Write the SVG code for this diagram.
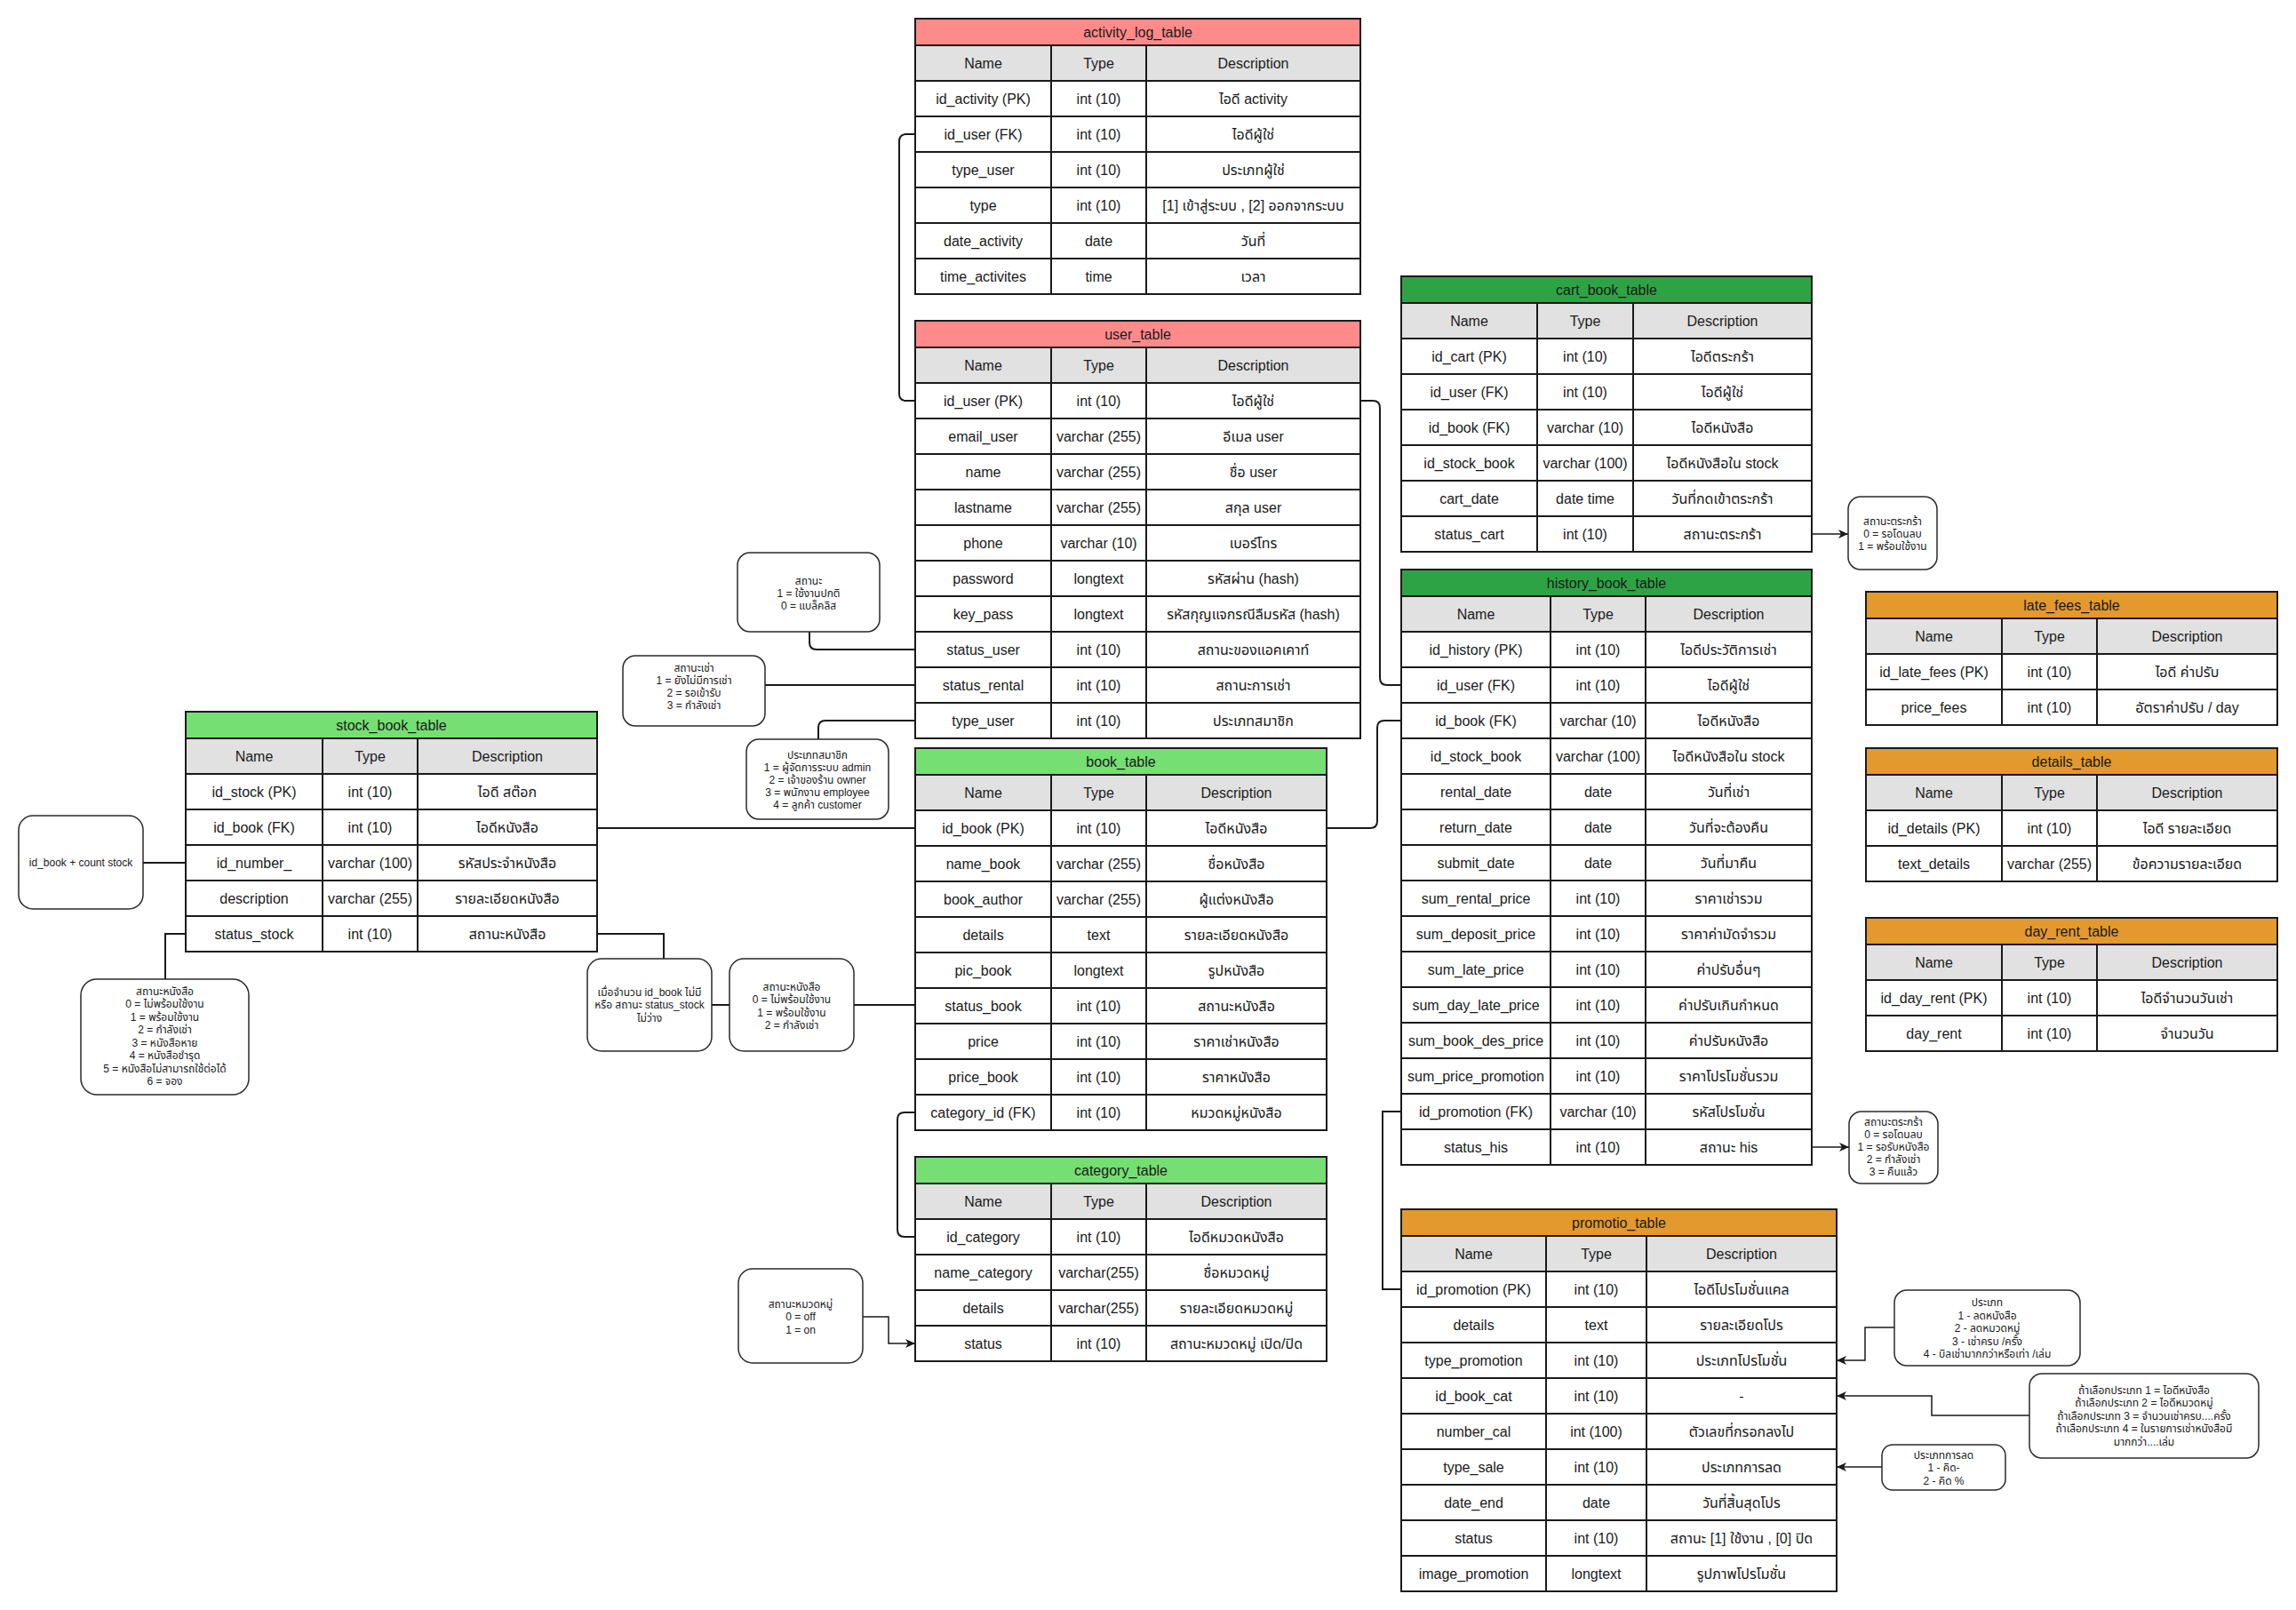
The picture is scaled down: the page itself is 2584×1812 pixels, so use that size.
<svg xmlns="http://www.w3.org/2000/svg" width="2584" height="1812" viewBox="0 0 2584 1812">
<defs>
<marker id="arrow" markerUnits="userSpaceOnUse" markerWidth="12" markerHeight="10" refX="11" refY="5" orient="auto">
<path d="M0,0 L11,5 L0,10 L3,5 z" fill="#1a1a1a"/>
</marker>
</defs>
<style>
text{font-family:'Liberation Sans','Noto Sans Thai','Noto Sans','DejaVu Sans',sans-serif;fill:#1a1a1a;text-anchor:middle}
.tb text{font-size:16px}
.pink{fill:#ff8a8a}
.lgreen{fill:#75df74}
.dgreen{fill:#2ea346}
.orange{fill:#e3992d}
.ttl,.hd,.bd{stroke:#1a1a1a;stroke-width:2}
.hd{fill:#e1e1e1}
.bd{fill:#fff}
.grid{fill:none;stroke:#1a1a1a;stroke-width:2}
.note rect{fill:#fff;stroke:#2a2a2a;stroke-width:1.5}
.note text{font-size:12px}
.conn path{fill:none;stroke:#1a1a1a;stroke-width:2}
.conn path.arr{stroke-width:1.5;marker-end:url(#arrow)}
</style>
<rect width="2584" height="1812" fill="#fff"/>

<!-- relations and note links -->
<g id="connectors" class="conn">
<path d="M1030 151 H1020 Q1012 151 1012 159 V443 Q1012 451 1020 451 H1030"/>
<path d="M1531 451 H1545 Q1553 451 1553 459 V763 Q1553 771 1561 771 H1577"/>
<path d="M1493 932 H1542 Q1550 932 1550 924 V819 Q1550 811 1558 811 H1577"/>
<path d="M1030 1252 H1018 Q1010 1252 1010 1260 V1384 Q1010 1392 1018 1392 H1030"/>
<path d="M1577 1251 H1556 V1451 H1577"/>
<path d="M672 932 H1030"/>
<path d="M161 971 H209"/>
<path d="M209 1051 H186 V1102"/>
<path d="M672 1051 H747 V1079"/>
<path d="M801 1131 H821"/>
<path d="M961 1131 H1030"/>
<path d="M911 711 V723 Q911 731 919 731 H1030"/>
<path d="M861 771 H1030"/>
<path d="M921 832 V819 Q921 811 929 811 H1030"/>
<path class="arr" d="M971 1482 H1000 V1512 H1030"/>
<path class="arr" d="M2039 601 H2080"/>
<path class="arr" d="M2039 1291 H2081"/>
<path class="arr" d="M2132 1494 H2099 V1531 H2067"/>
<path class="arr" d="M2284 1593 H2174 V1571 H2067"/>
<path class="arr" d="M2118 1651 H2067"/>
</g>

<!-- activity_log_table -->
<g id="activity_log_table" class="tb" transform="translate(1030,21)">
<rect class="ttl pink" x="0" y="0" width="501" height="30"/>
<rect class="hd" x="0" y="30" width="501" height="40"/>
<rect class="bd" x="0" y="70" width="501" height="240"/>
<path class="grid" d="M153 30V310M260 30V310M0 110H501M0 150H501M0 190H501M0 230H501M0 270H501"/>
<text x="250.5" y="20.5">activity_log_table</text>
<text x="76.5" y="55.5">Name</text><text x="206.5" y="55.5">Type</text><text x="380.5" y="55.5">Description</text>
<text x="76.5" y="95.5">id_activity (PK)</text><text x="206.5" y="95.5">int (10)</text><text x="380.5" y="95.5">ไอดี activity</text>
<text x="76.5" y="135.5">id_user (FK)</text><text x="206.5" y="135.5">int (10)</text><text x="380.5" y="135.5">ไอดีผู้ใช่</text>
<text x="76.5" y="175.5">type_user</text><text x="206.5" y="175.5">int (10)</text><text x="380.5" y="175.5">ประเภทผู้ใช่</text>
<text x="76.5" y="215.5">type</text><text x="206.5" y="215.5">int (10)</text><text x="380.5" y="215.5">[1] เข้าสู่ระบบ , [2] ออกจากระบบ</text>
<text x="76.5" y="255.5">date_activity</text><text x="206.5" y="255.5">date</text><text x="380.5" y="255.5">วันที่</text>
<text x="76.5" y="295.5">time_activites</text><text x="206.5" y="295.5">time</text><text x="380.5" y="295.5">เวลา</text>
</g>

<!-- user_table -->
<g id="user_table" class="tb" transform="translate(1030,361)">
<rect class="ttl pink" x="0" y="0" width="501" height="30"/>
<rect class="hd" x="0" y="30" width="501" height="40"/>
<rect class="bd" x="0" y="70" width="501" height="400"/>
<path class="grid" d="M153 30V470M260 30V470M0 110H501M0 150H501M0 190H501M0 230H501M0 270H501M0 310H501M0 350H501M0 390H501M0 430H501"/>
<text x="250.5" y="20.5">user_table</text>
<text x="76.5" y="55.5">Name</text><text x="206.5" y="55.5">Type</text><text x="380.5" y="55.5">Description</text>
<text x="76.5" y="95.5">id_user (PK)</text><text x="206.5" y="95.5">int (10)</text><text x="380.5" y="95.5">ไอดีผู้ใช่</text>
<text x="76.5" y="135.5">email_user</text><text x="206.5" y="135.5">varchar (255)</text><text x="380.5" y="135.5">อีเมล user</text>
<text x="76.5" y="175.5">name</text><text x="206.5" y="175.5">varchar (255)</text><text x="380.5" y="175.5">ชื่อ user</text>
<text x="76.5" y="215.5">lastname</text><text x="206.5" y="215.5">varchar (255)</text><text x="380.5" y="215.5">สกุล user</text>
<text x="76.5" y="255.5">phone</text><text x="206.5" y="255.5">varchar (10)</text><text x="380.5" y="255.5">เบอร์โทร</text>
<text x="76.5" y="295.5">password</text><text x="206.5" y="295.5">longtext</text><text x="380.5" y="295.5">รหัสผ่าน (hash)</text>
<text x="76.5" y="335.5">key_pass</text><text x="206.5" y="335.5">longtext</text><text x="380.5" y="335.5">รหัสกุญแจกรณีลืมรหัส (hash)</text>
<text x="76.5" y="375.5">status_user</text><text x="206.5" y="375.5">int (10)</text><text x="380.5" y="375.5">สถานะของแอคเคาท์</text>
<text x="76.5" y="415.5">status_rental</text><text x="206.5" y="415.5">int (10)</text><text x="380.5" y="415.5">สถานะการเช่า</text>
<text x="76.5" y="455.5">type_user</text><text x="206.5" y="455.5">int (10)</text><text x="380.5" y="455.5">ประเภทสมาชิก</text>
</g>

<!-- book_table -->
<g id="book_table" class="tb" transform="translate(1030,842)">
<rect class="ttl lgreen" x="0" y="0" width="463" height="30"/>
<rect class="hd" x="0" y="30" width="463" height="40"/>
<rect class="bd" x="0" y="70" width="463" height="360"/>
<path class="grid" d="M153 30V430M260 30V430M0 110H463M0 150H463M0 190H463M0 230H463M0 270H463M0 310H463M0 350H463M0 390H463"/>
<text x="231.5" y="20.5">book_table</text>
<text x="76.5" y="55.5">Name</text><text x="206.5" y="55.5">Type</text><text x="361.5" y="55.5">Description</text>
<text x="76.5" y="95.5">id_book (PK)</text><text x="206.5" y="95.5">int (10)</text><text x="361.5" y="95.5">ไอดีหนังสือ</text>
<text x="76.5" y="135.5">name_book</text><text x="206.5" y="135.5">varchar (255)</text><text x="361.5" y="135.5">ชื่อหนังสือ</text>
<text x="76.5" y="175.5">book_author</text><text x="206.5" y="175.5">varchar (255)</text><text x="361.5" y="175.5">ผู้แต่งหนังสือ</text>
<text x="76.5" y="215.5">details</text><text x="206.5" y="215.5">text</text><text x="361.5" y="215.5">รายละเอียดหนังสือ</text>
<text x="76.5" y="255.5">pic_book</text><text x="206.5" y="255.5">longtext</text><text x="361.5" y="255.5">รูปหนังสือ</text>
<text x="76.5" y="295.5">status_book</text><text x="206.5" y="295.5">int (10)</text><text x="361.5" y="295.5">สถานะหนังสือ</text>
<text x="76.5" y="335.5">price</text><text x="206.5" y="335.5">int (10)</text><text x="361.5" y="335.5">ราคาเช่าหนังสือ</text>
<text x="76.5" y="375.5">price_book</text><text x="206.5" y="375.5">int (10)</text><text x="361.5" y="375.5">ราคาหนังสือ</text>
<text x="76.5" y="415.5">category_id (FK)</text><text x="206.5" y="415.5">int (10)</text><text x="361.5" y="415.5">หมวดหมู่หนังสือ</text>
</g>

<!-- category_table -->
<g id="category_table" class="tb" transform="translate(1030,1302)">
<rect class="ttl lgreen" x="0" y="0" width="463" height="30"/>
<rect class="hd" x="0" y="30" width="463" height="40"/>
<rect class="bd" x="0" y="70" width="463" height="160"/>
<path class="grid" d="M153 30V230M260 30V230M0 110H463M0 150H463M0 190H463"/>
<text x="231.5" y="20.5">category_table</text>
<text x="76.5" y="55.5">Name</text><text x="206.5" y="55.5">Type</text><text x="361.5" y="55.5">Description</text>
<text x="76.5" y="95.5">id_category</text><text x="206.5" y="95.5">int (10)</text><text x="361.5" y="95.5">ไอดีหมวดหนังสือ</text>
<text x="76.5" y="135.5">name_category</text><text x="206.5" y="135.5">varchar(255)</text><text x="361.5" y="135.5">ชื่อหมวดหมู่</text>
<text x="76.5" y="175.5">details</text><text x="206.5" y="175.5">varchar(255)</text><text x="361.5" y="175.5">รายละเอียดหมวดหมู่</text>
<text x="76.5" y="215.5">status</text><text x="206.5" y="215.5">int (10)</text><text x="361.5" y="215.5">สถานะหมวดหมู่ เปิด/ปิด</text>
</g>

<!-- stock_book_table -->
<g id="stock_book_table" class="tb" transform="translate(209,801)">
<rect class="ttl lgreen" x="0" y="0" width="463" height="30"/>
<rect class="hd" x="0" y="30" width="463" height="40"/>
<rect class="bd" x="0" y="70" width="463" height="200"/>
<path class="grid" d="M154 30V270M261 30V270M0 110H463M0 150H463M0 190H463M0 230H463"/>
<text x="231.5" y="20.5">stock_book_table</text>
<text x="77" y="55.5">Name</text><text x="207.5" y="55.5">Type</text><text x="362" y="55.5">Description</text>
<text x="77" y="95.5">id_stock (PK)</text><text x="207.5" y="95.5">int (10)</text><text x="362" y="95.5">ไอดี สต๊อก</text>
<text x="77" y="135.5">id_book (FK)</text><text x="207.5" y="135.5">int (10)</text><text x="362" y="135.5">ไอดีหนังสือ</text>
<text x="77" y="175.5">id_number_</text><text x="207.5" y="175.5">varchar (100)</text><text x="362" y="175.5">รหัสประจำหนังสือ</text>
<text x="77" y="215.5">description</text><text x="207.5" y="215.5">varchar (255)</text><text x="362" y="215.5">รายละเอียดหนังสือ</text>
<text x="77" y="255.5">status_stock</text><text x="207.5" y="255.5">int (10)</text><text x="362" y="255.5">สถานะหนังสือ</text>
</g>

<!-- cart_book_table -->
<g id="cart_book_table" class="tb" transform="translate(1577,311)">
<rect class="ttl dgreen" x="0" y="0" width="462" height="30"/>
<rect class="hd" x="0" y="30" width="462" height="40"/>
<rect class="bd" x="0" y="70" width="462" height="240"/>
<path class="grid" d="M153 30V310M261 30V310M0 110H462M0 150H462M0 190H462M0 230H462M0 270H462"/>
<text x="231" y="20.5">cart_book_table</text>
<text x="76.5" y="55.5">Name</text><text x="207" y="55.5">Type</text><text x="361.5" y="55.5">Description</text>
<text x="76.5" y="95.5">id_cart (PK)</text><text x="207" y="95.5">int (10)</text><text x="361.5" y="95.5">ไอดีตระกร้า</text>
<text x="76.5" y="135.5">id_user (FK)</text><text x="207" y="135.5">int (10)</text><text x="361.5" y="135.5">ไอดีผู้ใช่</text>
<text x="76.5" y="175.5">id_book (FK)</text><text x="207" y="175.5">varchar (10)</text><text x="361.5" y="175.5">ไอดีหนังสือ</text>
<text x="76.5" y="215.5">id_stock_book</text><text x="207" y="215.5">varchar (100)</text><text x="361.5" y="215.5">ไอดีหนังสือใน stock</text>
<text x="76.5" y="255.5">cart_date</text><text x="207" y="255.5">date time</text><text x="361.5" y="255.5">วันที่กดเข้าตระกร้า</text>
<text x="76.5" y="295.5">status_cart</text><text x="207" y="295.5">int (10)</text><text x="361.5" y="295.5">สถานะตระกร้า</text>
</g>

<!-- history_book_table -->
<g id="history_book_table" class="tb" transform="translate(1577,641)">
<rect class="ttl dgreen" x="0" y="0" width="462" height="30"/>
<rect class="hd" x="0" y="30" width="462" height="40"/>
<rect class="bd" x="0" y="70" width="462" height="600"/>
<path class="grid" d="M168 30V670M275 30V670M0 110H462M0 150H462M0 190H462M0 230H462M0 270H462M0 310H462M0 350H462M0 390H462M0 430H462M0 470H462M0 510H462M0 550H462M0 590H462M0 630H462"/>
<text x="231" y="20.5">history_book_table</text>
<text x="84" y="55.5">Name</text><text x="221.5" y="55.5">Type</text><text x="368.5" y="55.5">Description</text>
<text x="84" y="95.5">id_history (PK)</text><text x="221.5" y="95.5">int (10)</text><text x="368.5" y="95.5">ไอดีประวัติการเช่า</text>
<text x="84" y="135.5">id_user (FK)</text><text x="221.5" y="135.5">int (10)</text><text x="368.5" y="135.5">ไอดีผู้ใช่</text>
<text x="84" y="175.5">id_book (FK)</text><text x="221.5" y="175.5">varchar (10)</text><text x="368.5" y="175.5">ไอดีหนังสือ</text>
<text x="84" y="215.5">id_stock_book</text><text x="221.5" y="215.5">varchar (100)</text><text x="368.5" y="215.5">ไอดีหนังสือใน stock</text>
<text x="84" y="255.5">rental_date</text><text x="221.5" y="255.5">date</text><text x="368.5" y="255.5">วันที่เช่า</text>
<text x="84" y="295.5">return_date</text><text x="221.5" y="295.5">date</text><text x="368.5" y="295.5">วันที่จะต้องคืน</text>
<text x="84" y="335.5">submit_date</text><text x="221.5" y="335.5">date</text><text x="368.5" y="335.5">วันที่มาคืน</text>
<text x="84" y="375.5">sum_rental_price</text><text x="221.5" y="375.5">int (10)</text><text x="368.5" y="375.5">ราคาเช่ารวม</text>
<text x="84" y="415.5">sum_deposit_price</text><text x="221.5" y="415.5">int (10)</text><text x="368.5" y="415.5">ราคาค่ามัดจำรวม</text>
<text x="84" y="455.5">sum_late_price</text><text x="221.5" y="455.5">int (10)</text><text x="368.5" y="455.5">ค่าปรับอื่นๆ</text>
<text x="84" y="495.5">sum_day_late_price</text><text x="221.5" y="495.5">int (10)</text><text x="368.5" y="495.5">ค่าปรับเกินกำหนด</text>
<text x="84" y="535.5">sum_book_des_price</text><text x="221.5" y="535.5">int (10)</text><text x="368.5" y="535.5">ค่าปรับหนังสือ</text>
<text x="84" y="575.5">sum_price_promotion</text><text x="221.5" y="575.5">int (10)</text><text x="368.5" y="575.5">ราคาโปรโมชั่นรวม</text>
<text x="84" y="615.5">id_promotion (FK)</text><text x="221.5" y="615.5">varchar (10)</text><text x="368.5" y="615.5">รหัสโปรโมชั่น</text>
<text x="84" y="655.5">status_his</text><text x="221.5" y="655.5">int (10)</text><text x="368.5" y="655.5">สถานะ his</text>
</g>

<!-- promotio_table -->
<g id="promotio_table" class="tb" transform="translate(1577,1361)">
<rect class="ttl orange" x="0" y="0" width="490" height="30"/>
<rect class="hd" x="0" y="30" width="490" height="40"/>
<rect class="bd" x="0" y="70" width="490" height="360"/>
<path class="grid" d="M163 30V430M276 30V430M0 110H490M0 150H490M0 190H490M0 230H490M0 270H490M0 310H490M0 350H490M0 390H490"/>
<text x="245" y="20.5">promotio_table</text>
<text x="81.5" y="55.5">Name</text><text x="219.5" y="55.5">Type</text><text x="383" y="55.5">Description</text>
<text x="81.5" y="95.5">id_promotion (PK)</text><text x="219.5" y="95.5">int (10)</text><text x="383" y="95.5">ไอดีโปรโมชั่นแคล</text>
<text x="81.5" y="135.5">details</text><text x="219.5" y="135.5">text</text><text x="383" y="135.5">รายละเอียดโปร</text>
<text x="81.5" y="175.5">type_promotion</text><text x="219.5" y="175.5">int (10)</text><text x="383" y="175.5">ประเภทโปรโมชั่น</text>
<text x="81.5" y="215.5">id_book_cat</text><text x="219.5" y="215.5">int (10)</text><text x="383" y="215.5">-</text>
<text x="81.5" y="255.5">number_cal</text><text x="219.5" y="255.5">int (100)</text><text x="383" y="255.5">ตัวเลขที่กรอกลงไป</text>
<text x="81.5" y="295.5">type_sale</text><text x="219.5" y="295.5">int (10)</text><text x="383" y="295.5">ประเภทการลด</text>
<text x="81.5" y="335.5">date_end</text><text x="219.5" y="335.5">date</text><text x="383" y="335.5">วันที่สิ้นสุดโปร</text>
<text x="81.5" y="375.5">status</text><text x="219.5" y="375.5">int (10)</text><text x="383" y="375.5">สถานะ [1] ใช้งาน , [0] ปิด</text>
<text x="81.5" y="415.5">image_promotion</text><text x="219.5" y="415.5">longtext</text><text x="383" y="415.5">รูปภาพโปรโมชั่น</text>
</g>

<!-- late_fees_table -->
<g id="late_fees_table" class="tb" transform="translate(2100,666)">
<rect class="ttl orange" x="0" y="0" width="463" height="30"/>
<rect class="hd" x="0" y="30" width="463" height="40"/>
<rect class="bd" x="0" y="70" width="463" height="80"/>
<path class="grid" d="M153 30V150M260 30V150M0 110H463"/>
<text x="231.5" y="20.5">late_fees_table</text>
<text x="76.5" y="55.5">Name</text><text x="206.5" y="55.5">Type</text><text x="361.5" y="55.5">Description</text>
<text x="76.5" y="95.5">id_late_fees (PK)</text><text x="206.5" y="95.5">int (10)</text><text x="361.5" y="95.5">ไอดี ค่าปรับ</text>
<text x="76.5" y="135.5">price_fees</text><text x="206.5" y="135.5">int (10)</text><text x="361.5" y="135.5">อัตราค่าปรับ / day</text>
</g>

<!-- details_table -->
<g id="details_table" class="tb" transform="translate(2100,842)">
<rect class="ttl orange" x="0" y="0" width="463" height="30"/>
<rect class="hd" x="0" y="30" width="463" height="40"/>
<rect class="bd" x="0" y="70" width="463" height="80"/>
<path class="grid" d="M153 30V150M260 30V150M0 110H463"/>
<text x="231.5" y="20.5">details_table</text>
<text x="76.5" y="55.5">Name</text><text x="206.5" y="55.5">Type</text><text x="361.5" y="55.5">Description</text>
<text x="76.5" y="95.5">id_details (PK)</text><text x="206.5" y="95.5">int (10)</text><text x="361.5" y="95.5">ไอดี รายละเอียด</text>
<text x="76.5" y="135.5">text_details</text><text x="206.5" y="135.5">varchar (255)</text><text x="361.5" y="135.5">ข้อความรายละเอียด</text>
</g>

<!-- day_rent_table -->
<g id="day_rent_table" class="tb" transform="translate(2100,1033)">
<rect class="ttl orange" x="0" y="0" width="463" height="30"/>
<rect class="hd" x="0" y="30" width="463" height="40"/>
<rect class="bd" x="0" y="70" width="463" height="80"/>
<path class="grid" d="M153 30V150M260 30V150M0 110H463"/>
<text x="231.5" y="20.5">day_rent_table</text>
<text x="76.5" y="55.5">Name</text><text x="206.5" y="55.5">Type</text><text x="361.5" y="55.5">Description</text>
<text x="76.5" y="95.5">id_day_rent (PK)</text><text x="206.5" y="95.5">int (10)</text><text x="361.5" y="95.5">ไอดีจำนวนวันเช่า</text>
<text x="76.5" y="135.5">day_rent</text><text x="206.5" y="135.5">int (10)</text><text x="361.5" y="135.5">จำนวนวัน</text>
</g>

<!-- annotation boxes -->
<g id="note_status_user" class="note">
<rect x="830" y="622" width="160" height="89" rx="14"/>
<text x="910" y="657.5">สถานะ</text>
<text x="910" y="671.5">1 = ใช้งานปกติ</text>
<text x="910" y="685.5">0 = แบล็คลิส</text>
</g>
<g id="note_status_rental" class="note">
<rect x="701" y="738" width="160" height="79" rx="14"/>
<text x="781" y="755.5">สถานะเช่า</text>
<text x="781" y="769.5">1 = ยังไม่มีการเช่า</text>
<text x="781" y="783.5">2 = รอเข้ารับ</text>
<text x="781" y="797.5">3 = กำลังเช่า</text>
</g>
<g id="note_type_user" class="note">
<rect x="840" y="832" width="160" height="90" rx="14"/>
<text x="920" y="853.5">ประเภทสมาชิก</text>
<text x="920" y="867.5">1 = ผู้จัดการระบบ admin</text>
<text x="920" y="881.5">2 = เจ้าของร้าน owner</text>
<text x="920" y="895.5">3 = พนักงาน employee</text>
<text x="920" y="909.5">4 = ลูกค้า customer</text>
</g>
<g id="note_count_stock" class="note">
<rect x="21" y="918" width="140" height="105" rx="16"/>
<text x="91" y="975">id_book + count stock</text>
</g>
<g id="note_status_stock" class="note">
<rect x="91" y="1102" width="189" height="130" rx="18"/>
<text x="185.5" y="1119.5">สถานะหนังสือ</text>
<text x="185.5" y="1134">0 = ไม่พร้อมใช้งาน</text>
<text x="185.5" y="1148.5">1 = พร้อมใช้งาน</text>
<text x="185.5" y="1163">2 = กำลังเช่า</text>
<text x="185.5" y="1177.5">3 = หนังสือหาย</text>
<text x="185.5" y="1192">4 = หนังสือชำรุด</text>
<text x="185.5" y="1206.5">5 = หนังสือไม่สามารถใช้ต่อได้</text>
<text x="185.5" y="1221">6 = จอง</text>
</g>
<g id="note_stock_empty" class="note">
<rect x="661" y="1079" width="140" height="104" rx="16"/>
<text x="731" y="1120.5">เมื่อจำนวน id_book ไม่มี</text>
<text x="731" y="1135">หรือ สถานะ status_stock</text>
<text x="731" y="1149.5">ไม่ว่าง</text>
</g>
<g id="note_status_book" class="note">
<rect x="821" y="1079" width="140" height="104" rx="16"/>
<text x="891" y="1114.5">สถานะหนังสือ</text>
<text x="891" y="1129">0 = ไม่พร้อมใช้งาน</text>
<text x="891" y="1143.5">1 = พร้อมใช้งาน</text>
<text x="891" y="1158">2 = กำลังเช่า</text>
</g>
<g id="note_status_category" class="note">
<rect x="831" y="1428" width="140" height="106" rx="16"/>
<text x="901" y="1471.5">สถานะหมวดหมู่</text>
<text x="901" y="1486">0 = off</text>
<text x="901" y="1500.5">1 = on</text>
</g>
<g id="note_status_cart" class="note">
<rect x="2080" y="559" width="100" height="82" rx="14"/>
<text x="2130" y="591">สถานะตระกร้า</text>
<text x="2130" y="605">0 = รอโดนลบ</text>
<text x="2130" y="619">1 = พร้อมใช้งาน</text>
</g>
<g id="note_status_his" class="note">
<rect x="2081" y="1251" width="100" height="81" rx="14"/>
<text x="2131" y="1267">สถานะตระกร้า</text>
<text x="2131" y="1281">0 = รอโดนลบ</text>
<text x="2131" y="1295">1 = รอรับหนังสือ</text>
<text x="2131" y="1309">2 = กำลังเช่า</text>
<text x="2131" y="1323">3 = คืนแล้ว</text>
</g>
<g id="note_type_promotion" class="note">
<rect x="2132" y="1452" width="209" height="85" rx="14"/>
<text x="2236.5" y="1470">ประเภท</text>
<text x="2236.5" y="1484.5">1 - ลดหนังสือ</text>
<text x="2236.5" y="1499">2 - ลดหมวดหมู่</text>
<text x="2236.5" y="1513.5">3 - เช่าครบ /ครั้ง</text>
<text x="2236.5" y="1528">4 - บิลเช่ามากกว่าหรือเท่า /เล่ม</text>
</g>
<g id="note_id_book_cat" class="note">
<rect x="2284" y="1546" width="258" height="95" rx="14"/>
<text x="2413" y="1568.5">ถ้าเลือกประเภท 1 = ไอดีหนังสือ</text>
<text x="2413" y="1583">ถ้าเลือกประเภท 2 = ไอดีหมวดหมู่</text>
<text x="2413" y="1597.5">ถ้าเลือกประเภท 3 = จำนวนเช่าครบ....ครั้ง</text>
<text x="2413" y="1612">ถ้าเลือกประเภท 4 = ในรายการเช่าหนังสือมี</text>
<text x="2413" y="1626.5">มากกว่า....เล่ม</text>
</g>
<g id="note_type_sale" class="note">
<rect x="2118" y="1626" width="139" height="51" rx="12"/>
<text x="2187.5" y="1641.5">ประเภทการลด</text>
<text x="2187.5" y="1656">1 - คิด-</text>
<text x="2187.5" y="1670.5">2 - คิด %</text>
</g>
</svg>
